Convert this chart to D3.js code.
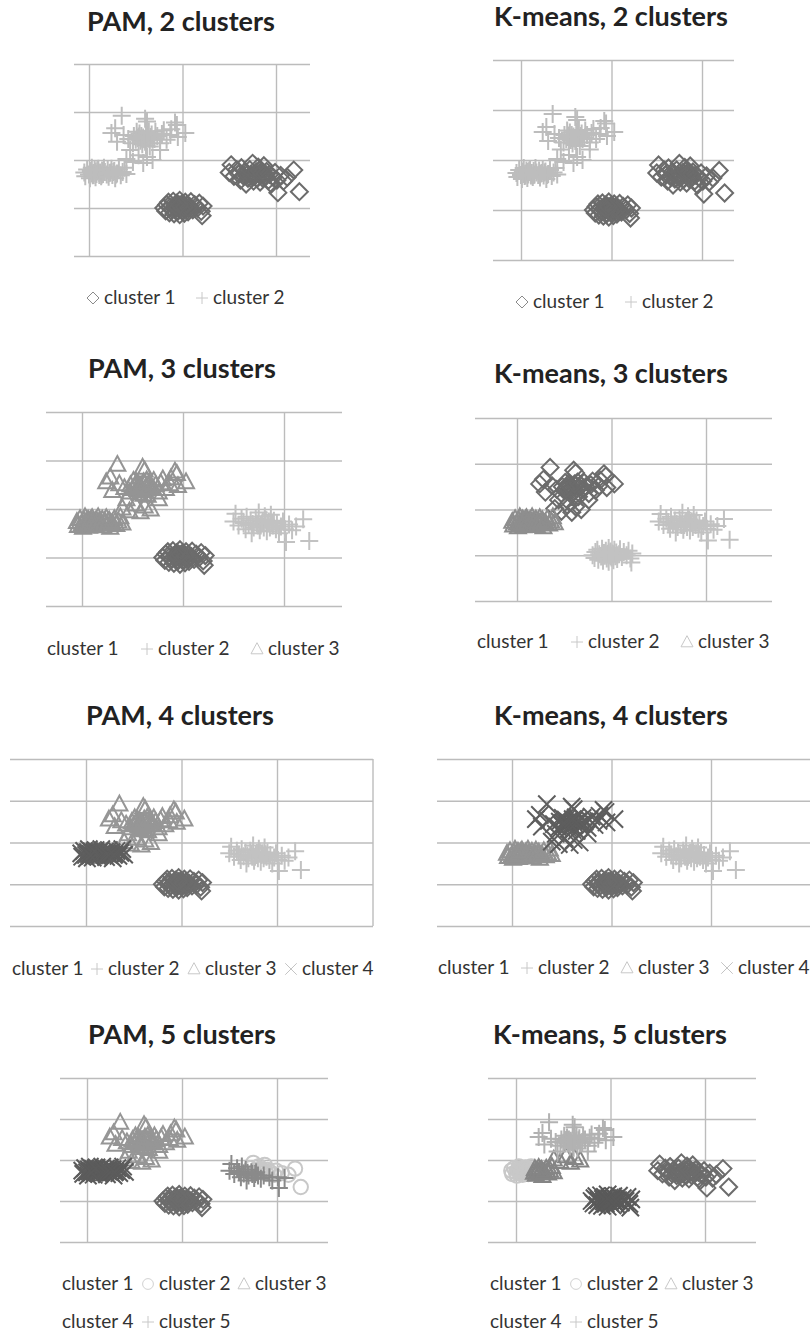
<!DOCTYPE html>
<html lang="en">
<head>
<meta charset="UTF-8">
<title>PAM vs K-means</title>
<script src="https://cdn.jsdelivr.net/npm/d3@7"></script>
<style>
    body { margin: 0; background: #fff; }
    .title { font: bold 27px Lato, sans-serif; fill: #222; text-anchor: middle; }
    .legend text { font: 19px Lato, sans-serif; fill: #333; }
    .grid line { stroke: #bcbcbc; stroke-width: 1.4; }
    .grid path { display: none; }
    .grid text { display: none; }
</style>
</head>
<body>
<svg width="810" height="1331"></svg>
<script>
// the same points are used in every panel, only the cluster labels change
var blobA1 = [[-0.05,1.74],[-0.04,1.66],[-0.02,1.80],[0.00,1.70],[0.01,1.62],[0.02,1.77],[0.03,1.84],
    [0.04,1.68],[0.05,1.73],[0.06,1.79],[0.07,1.64],[0.08,1.71],[0.09,1.76],[0.10,1.82],[0.11,1.69],
    [0.12,1.74],[0.13,1.66],[0.14,1.78],[0.15,1.71],[0.16,1.84],[0.17,1.75],[0.03,1.72],[0.07,1.76],
    [0.11,1.73],[0.14,1.70],[0.05,1.69],[0.09,1.79]];
var blobA2 = [[0.19,1.70],[0.20,1.79],[0.21,1.65],[0.23,1.74],[0.24,1.82],[0.25,1.69],[0.27,1.77],
    [0.28,1.62],[0.30,1.72],[0.32,1.80],[0.34,1.68],[0.36,1.75],[0.38,1.84],[0.40,1.71],[0.22,1.73],
    [0.26,1.75],[0.29,1.70]];
var blobB1 = [[0.40,2.02],[0.47,1.96],[0.53,2.10],[0.58,1.94],[0.62,2.06],[0.68,2.00]];
var blobB2 = [[0.35,2.92],[0.62,2.80],[0.94,2.73],[1.03,2.56],[0.24,2.56],[0.30,2.38],[0.53,2.49],
    [0.76,2.35],[0.87,2.52],[0.44,2.21],[0.76,2.21],[0.51,2.59],[0.56,2.45],[0.68,2.42],[0.37,2.52],
    [0.83,2.42],[0.65,2.28],[0.47,2.35],[0.95,2.48],[0.71,2.59],[0.28,2.66],[0.60,2.86],[0.92,2.78],
    [0.78,2.54],[0.61,2.30],[0.55,2.40],[0.58,2.47],[0.62,2.52],[0.50,2.42],[0.66,2.48],[0.60,2.38],
    [0.54,2.55],[0.70,2.44],[0.57,2.33],[0.64,2.60],[0.48,2.50],[0.73,2.50],[0.42,2.44],[0.80,2.62],
    [0.88,2.64],[0.59,2.43],[0.63,2.45],[0.56,2.50],[0.67,2.53],[0.52,2.46],[0.61,2.56]];
var blobC = [[0.80,1.00],[0.82,0.94],[0.83,1.07],[0.85,1.12],[0.86,0.90],[0.87,1.02],[0.89,0.97],
    [0.90,1.14],[0.91,0.88],[0.92,1.05],[0.93,0.99],[0.94,1.10],[0.95,0.93],[0.96,1.03],[0.97,0.86],
    [0.97,1.16],[0.98,1.00],[0.99,1.08],[1.00,0.95],[1.01,1.04],[1.02,0.89],[1.03,1.12],[1.04,0.98],
    [1.05,1.06],[1.06,0.92],[1.08,1.02],[1.09,1.13],[1.11,0.96],[1.13,1.07],[1.16,1.00],[1.18,1.10],
    [1.20,0.93],[1.21,0.84],[1.22,1.04],[0.95,1.01],[0.99,0.98],[1.02,1.02],[0.93,1.04],[1.06,1.00],
    [0.97,1.06]];
var blobD1 = [[1.50,1.74],[1.52,1.90],[1.55,1.66],[1.58,1.80],[1.60,1.71],[1.62,1.58],[1.63,1.84],
    [1.65,1.67],[1.67,1.76],[1.68,1.50],[1.70,1.62],[1.73,1.70],[1.76,1.56],[1.77,1.66],[1.80,1.62],
    [1.83,1.54],[1.86,1.62],[1.92,1.58],[1.95,1.50],[2.01,1.58],[2.02,1.32],[2.08,1.56],[1.74,1.66],
    [1.78,1.70],[1.69,1.69]];
var blobD2 = [[1.72,1.80],[1.75,1.93],[1.79,1.75],[1.81,1.85],[1.84,1.70],[1.87,1.88],[1.89,1.66],
    [1.90,1.76],[1.93,1.70],[1.97,1.64],[1.99,1.74],[2.05,1.68],[2.12,1.64],[2.19,1.79],[2.25,1.34],
    [1.85,1.74],[1.82,1.78],[1.88,1.72]];

var groups = { A1: blobA1, A2: blobA2, B1: blobB1, B2: blobB2, C: blobC, D1: blobD1, D2: blobD2 };

var titles = ["PAM, 2 clusters", "K-means, 2 clusters", "PAM, 3 clusters", "K-means, 3 clusters",
    "PAM, 4 clusters", "K-means, 4 clusters", "PAM, 5 clusters", "K-means, 5 clusters"];
var clusterNames = ["cluster 1", "cluster 2", "cluster 3", "cluster 4", "cluster 5"];

// which groups of points end up in each cluster
var assign = [
    [["C","D1","D2"], ["A1","A2","B1","B2"]],
    [["C","D1","D2"], ["A1","A2","B1","B2"]],
    [["C"], ["D1","D2"], ["A1","A2","B1","B2"]],
    [["B1","B2"], ["C","D1","D2"], ["A1","A2"]],
    [["C"], ["D1","D2"], ["B1","B2"], ["A1","A2"]],
    [["C"], ["D1","D2"], ["A1","A2"], ["B1","B2"]],
    [["C"], ["D2"], ["B1","B2"], ["A1","A2"], ["D1"]],
    [["D1","D2"], ["A1"], ["A2","B1"], ["C"], ["B2"]]
];
var xTicks = [0, 1, 2, 3];
var yTicks = [0, 1, 2, 3, 4];

var shapesByK = {
    2: ["diamond", "plus"],
    3: ["diamond", "plus", "triangle"],
    4: ["diamond", "plus", "triangle", "cross"],
    5: ["diamond", "circle", "triangle", "cross", "plus"]
};
var legendMark = {
    2: [true, true],
    3: [false, true, true],
    4: [false, true, true, true],
    5: [false, true, true, false, true]
};
var colors = [
    ["#6c6c6c", "#bdbdbd"],
    ["#6c6c6c", "#bdbdbd"],
    ["#6c6c6c", "#c2c2c2", "#949494"],
    ["#6c6c6c", "#c2c2c2", "#8e8e8e"],
    ["#6c6c6c", "#c2c2c2", "#969696", "#5e5e5e"],
    ["#6c6c6c", "#c2c2c2", "#939393", "#5e5e5e"],
    ["#6c6c6c", "#c8c8c8", "#969696", "#5c5c5c", "#8a8a8a"],
    ["#6c6c6c", "#c8c8c8", "#858585", "#5a5a5a", "#b2b2b2"]
];
var legendColors = { diamond: "#8a8a8a", plus: "#c8c8c8", triangle: "#c8c8c8", cross: "#c4c4c4", circle: "#d2d2d2" };

// panel frames in pixels
var layout = [
    { left: 74,  right: 310, x0: 89,  x2: 276, top: 64,   bottom: 256,  tx: 181, ty: 31,   ly: [304],       lx: [[104, 213]] },
    { left: 493, right: 734, x0: 521, x2: 702, top: 60,   bottom: 260,  tx: 611, ty: 26,   ly: [308],       lx: [[533, 642]] },
    { left: 46,  right: 342, x0: 82,  x2: 284, top: 412,  bottom: 606,  tx: 182, ty: 378,  ly: [655],       lx: [[47, 158, 268]] },
    { left: 475, right: 772, x0: 517, x2: 706, top: 418,  bottom: 601,  tx: 611, ty: 383,  ly: [648],       lx: [[477, 588, 698]] },
    { left: 10,  right: 373, x0: 86,  x2: 277, top: 759,  bottom: 926,  tx: 180, ty: 725,  ly: [975],       lx: [[12, 108, 205, 302]] },
    { left: 437, right: 811, x0: 512, x2: 711, top: 759,  bottom: 926,  tx: 611, ty: 725,  ly: [974],       lx: [[438, 538, 638, 738]] },
    { left: 60,  right: 328, x0: 87,  x2: 277, top: 1078, bottom: 1242, tx: 182, ty: 1044, ly: [1290, 1328], lx: [[62, 159, 255], [62, 159]] },
    { left: 488, right: 756, x0: 516, x2: 705, top: 1078, bottom: 1242, tx: 610, ty: 1044, ly: [1290, 1328], lx: [[490, 587, 682], [490, 587]] }
];

function symbolType(name) {
    return {
        draw: function(ctx, size) {
            var r = Math.sqrt(size);
            if (name === "diamond") {
                ctx.moveTo(0, -r); ctx.lineTo(r, 0); ctx.lineTo(0, r); ctx.lineTo(-r, 0); ctx.closePath();
            } else if (name === "plus") {
                ctx.moveTo(-r, 0); ctx.lineTo(r, 0); ctx.moveTo(0, -r); ctx.lineTo(0, r);
            } else if (name === "cross") {
                var c = r * 0.72;
                ctx.moveTo(-c, -c); ctx.lineTo(c, c); ctx.moveTo(-c, c); ctx.lineTo(c, -c);
            } else if (name === "triangle") {
                ctx.moveTo(0, -r * 1.05); ctx.lineTo(r, r * 0.8); ctx.lineTo(-r, r * 0.8); ctx.closePath();
            } else {
                ctx.moveTo(r * 0.9, 0); ctx.arc(0, 0, r * 0.9, 0, 2 * Math.PI);
            }
        }
    };
}
var markSize = { diamond: 72, plus: 81, triangle: 64, cross: 144, circle: 64 };

var svg = d3.select("svg");
svg.append("rect").attr("width", 810).attr("height", 1331).attr("fill", "#fff");

layout.forEach(function(L, i) {
    var k = assign[i].length;
    var shapes = shapesByK[k];
    var g = svg.append("g");

    var x = d3.scaleLinear().domain([0, 2]).range([L.x0, L.x2]);
    var y = d3.scaleLinear().domain([0, 4]).range([L.bottom, L.top]);
    var xMin = x.invert(L.left), xMax = x.invert(L.right);

    g.append("g").attr("class", "grid")
        .attr("transform", "translate(" + L.left + ",0)")
        .call(d3.axisLeft(y).tickValues(yTicks).tickSize(-(L.right - L.left)).tickFormat(""));
    g.append("g").attr("class", "grid")
        .attr("transform", "translate(0," + L.bottom + ")")
        .call(d3.axisBottom(x)
            .tickValues(xTicks.filter(function(t) { return t >= xMin && t <= xMax + 0.02; }))
            .tickSize(-(L.bottom - L.top)).tickFormat(""));

    var clip = "clip" + i;
    g.append("clipPath").attr("id", clip).append("rect")
        .attr("x", L.left - 12).attr("y", L.top - 12)
        .attr("width", L.right - L.left + 24).attr("height", L.bottom - L.top + 24);

    var marks = g.append("g").attr("clip-path", "url(#" + clip + ")");
    assign[i].forEach(function(keys, c) {
        var pts = [];
        keys.forEach(function(key) { pts = pts.concat(groups[key]); });
        var sym = d3.symbol().type(symbolType(shapes[c])).size(markSize[shapes[c]]);
        marks.append("g").selectAll("path")
            .data(pts)
            .enter()
            .append("path")
            .attr("d", sym)
            .attr("transform", function(d) { return "translate(" + x(d[0]) + "," + y(d[1]) + ")"; })
            .attr("fill", "none")
            .attr("stroke", colors[i][c])
            .attr("stroke-width", 2);
    });

    g.append("text").attr("class", "title")
        .attr("x", L.tx).attr("y", L.ty)
        .text(titles[i]);

    var legend = g.append("g").attr("class", "legend");
    var idx = 0;
    L.lx.forEach(function(row, r) {
        row.forEach(function(tx) {
            var c = idx++;
            legend.append("text").attr("x", tx).attr("y", L.ly[r]).text(clusterNames[c]);
            if (legendMark[k][c]) {
                var sh = shapes[c];
                legend.append("path")
                    .attr("d", d3.symbol().type(symbolType(sh)).size(sh === "cross" ? 64 : 36))
                    .attr("transform", "translate(" + (tx - 11) + "," + (L.ly[r] - 6) + ")")
                    .attr("fill", "none")
                    .attr("stroke", legendColors[sh])
                    .attr("stroke-width", 1);
            }
        });
    });
});
</script>
</body>
</html>
